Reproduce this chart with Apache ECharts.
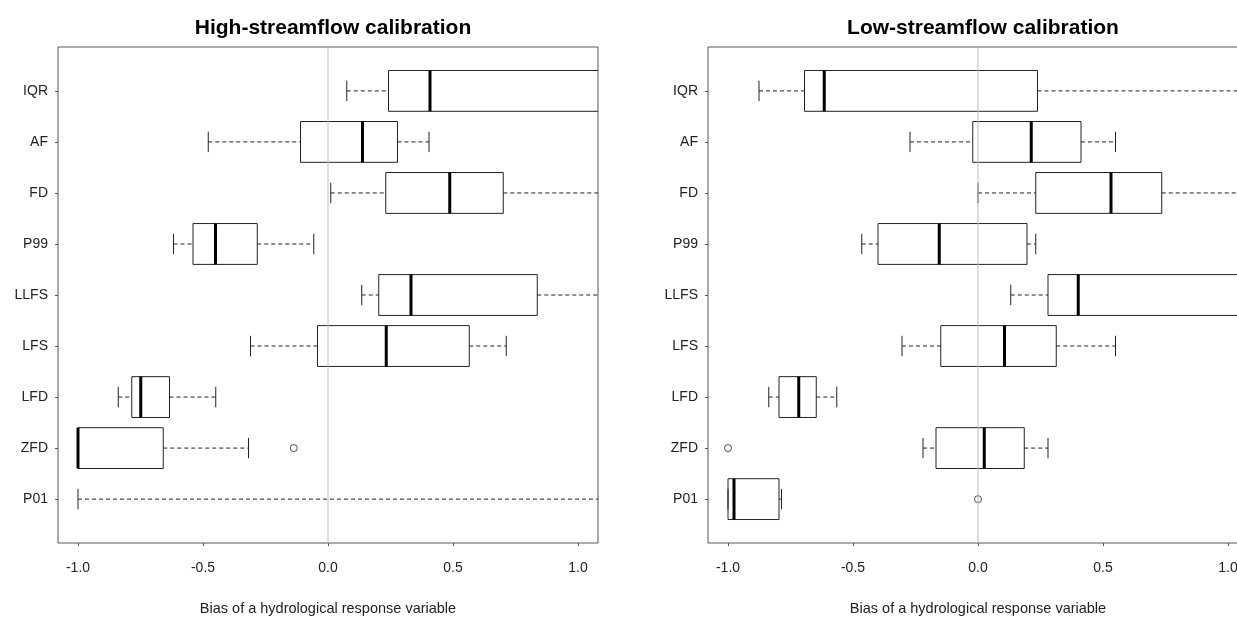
<!DOCTYPE html>
<html>
<head>
<meta charset="utf-8">
<script src="https://cdn.jsdelivr.net/npm/echarts@6/dist/echarts.min.js"></script>
<style>
  html, body { margin: 0; padding: 0; background: #fff; }
  #chart { width: 1237px; height: 617px; }
</style>
</head>
<body>
<div id="chart"></div>
<script>
// Hydrological response variables, listed top to bottom
const variables = ['IQR', 'AF', 'FD', 'P99', 'LLFS', 'LFS', 'LFD', 'ZFD', 'P01'];
const xTicks = [-1.0, -0.5, 0.0, 0.5, 1.0];

// High-streamflow calibration: whisker ends, quartiles and medians of the bias
const highLower  = [0.075, -0.479, 0.011, -0.618, 0.135, -0.310, -0.839, -1.000, -1.000];
const highQ1     = [0.242, -0.110, 0.231, -0.540, 0.203, -0.042, -0.785, -1.000, 1.600];
const highMedian = [0.408, 0.138, 0.487, -0.450, 0.332, 0.233, -0.749, -1.000, 2.400];
const highQ3     = [1.300, 0.278, 0.701, -0.283, 0.837, 0.565, -0.634, -0.659, 3.500];
const highUpper  = [2.100, 0.404, 1.250, -0.057, 1.450, 0.713, -0.449, -0.318, 5.200];
const highOutliers = [['ZFD', -0.137]];

// Low-streamflow calibration
const lowLower  = [-0.876, -0.272, 0.000, -0.465, 0.131, -0.304, -0.837, -0.220, -1.000];
const lowQ1     = [-0.694, -0.021, 0.231, -0.400, 0.280, -0.149, -0.796, -0.168, -1.000];
const lowMedian = [-0.615, 0.213, 0.532, -0.155, 0.401, 0.106, -0.717, 0.025, -0.976];
const lowQ3     = [0.238, 0.412, 0.735, 0.196, 1.200, 0.313, -0.647, 0.185, -0.796];
const lowUpper  = [1.400, 0.550, 1.300, 0.231, 1.800, 0.550, -0.565, 0.280, -0.786];
const lowOutliers = [['ZFD', -1.000], ['P01', 0.000]];

const FONT = '"Liberation Sans", Arial, sans-serif';
const INK = '#222';
const FRAME = '#555';

// position on the vertical value axis: top variable sits at 9, bottom at 1
const posOf = name => variables.length - variables.indexOf(name);

function boxData(lower, q1, med, q3, upper) {
  return variables.map((v, i) => [posOf(v), lower[i], q1[i], med[i], q3[i], upper[i]]);
}

function renderBox(params, api) {
  const y = api.value(0);
  const lo = api.coord([api.value(1), y]);
  const b1 = api.coord([api.value(2), y]);
  const md = api.coord([api.value(3), y]);
  const b3 = api.coord([api.value(4), y]);
  const hi = api.coord([api.value(5), y]);
  const h = api.size([0, 0.8])[1];
  const cap = h / 2;
  const cy = lo[1];
  const dashed = { stroke: INK, lineWidth: 1, lineDash: [4, 3] };
  const solid = { stroke: INK, lineWidth: 1 };
  const children = [];
  if (b1[0] > lo[0]) {
    children.push({ type: 'line', shape: { x1: lo[0], y1: cy, x2: b1[0], y2: cy }, style: dashed });
  }
  if (hi[0] > b3[0]) {
    children.push({ type: 'line', shape: { x1: b3[0], y1: cy, x2: hi[0], y2: cy }, style: dashed });
  }
  children.push({ type: 'line', shape: { x1: lo[0], y1: cy - cap / 2, x2: lo[0], y2: cy + cap / 2 }, style: solid });
  children.push({ type: 'line', shape: { x1: hi[0], y1: cy - cap / 2, x2: hi[0], y2: cy + cap / 2 }, style: solid });
  children.push({
    type: 'rect',
    shape: { x: b1[0], y: cy - h / 2, width: b3[0] - b1[0], height: h },
    style: { fill: 'none', stroke: INK, lineWidth: 1 }
  });
  children.push({ type: 'line', shape: { x1: md[0], y1: cy - h / 2, x2: md[0], y2: cy + h / 2 }, style: { stroke: '#000', lineWidth: 3 } });
  return { type: 'group', children: children };
}

function renderZero(params, api) {
  const a = api.coord([0, 0.14]);
  const b = api.coord([0, 9.86]);
  return { type: 'line', shape: { x1: a[0], y1: a[1], x2: b[0], y2: b[1] }, style: { stroke: '#bdbdbd', lineWidth: 1 } };
}

const panels = [
  { title: 'High-streamflow calibration', left: 58, data: boxData(highLower, highQ1, highMedian, highQ3, highUpper), out: highOutliers },
  { title: 'Low-streamflow calibration', left: 708, data: boxData(lowLower, lowQ1, lowMedian, lowQ3, lowUpper), out: lowOutliers }
];

const PW = 540, PT = 47, PH = 496;

const option = {
  animation: false,
  backgroundColor: '#fff',
  title: panels.map(p => ({
    text: p.title,
    left: p.left + PW / 2,
    top: 13,
    textAlign: 'center',
    textStyle: { fontFamily: FONT, fontSize: 21, fontWeight: 'bold', color: '#000' }
  })),
  grid: panels.map(p => ({
    left: p.left, top: PT, width: PW, height: PH,
    show: true, borderColor: FRAME, borderWidth: 1, backgroundColor: 'transparent',
    containLabel: false, outerBoundsMode: 'none'
  })),
  xAxis: panels.map((p, i) => ({
    type: 'value', gridIndex: i, min: -1.08, max: 1.08,
    axisLine: { show: false, onZero: false },
    splitLine: { show: false },
    axisTick: { show: true, length: 3, lineStyle: { color: FRAME }, customValues: xTicks },
    axisLabel: {
      customValues: xTicks, margin: 18,
      formatter: v => v.toFixed(1),
      fontFamily: FONT, fontSize: 14, color: '#222'
    },
    name: 'Bias of a hydrological response variable',
    nameLocation: 'middle', nameGap: 58,
    nameTextStyle: { fontFamily: FONT, fontSize: 14.5, color: '#222' }
  })),
  yAxis: panels.map((p, i) => ({
    type: 'value', gridIndex: i, min: 0.14, max: 9.86,
    axisLine: { show: false, onZero: false },
    splitLine: { show: false },
    axisTick: { show: true, length: 3, lineStyle: { color: FRAME }, customValues: [1, 2, 3, 4, 5, 6, 7, 8, 9] },
    axisLabel: {
      customValues: [1, 2, 3, 4, 5, 6, 7, 8, 9], margin: 10,
      formatter: v => variables[variables.length - Math.round(v)],
      fontFamily: FONT, fontSize: 14, color: '#222'
    }
  })),
  series: panels.flatMap((p, i) => [
    {
      type: 'custom', xAxisIndex: i, yAxisIndex: i, clip: true, z: 2,
      renderItem: renderBox,
      encode: { x: [1, 2, 3, 4, 5], y: 0 },
      data: p.data
    },
    {
      type: 'scatter', xAxisIndex: i, yAxisIndex: i, z: 3,
      symbol: 'circle', symbolSize: 7,
      itemStyle: { color: '#fff', borderColor: INK, borderWidth: 1 },
      data: p.out.map(o => [o[1], posOf(o[0])])
    },
    {
      type: 'custom', xAxisIndex: i, yAxisIndex: i, z: 4, silent: true,
      renderItem: renderZero,
      data: [[0, 5]]
    }
  ])
};

const chart = echarts.init(document.getElementById('chart'), null, { renderer: 'canvas' });
chart.setOption(option);
</script>
</body>
</html>
